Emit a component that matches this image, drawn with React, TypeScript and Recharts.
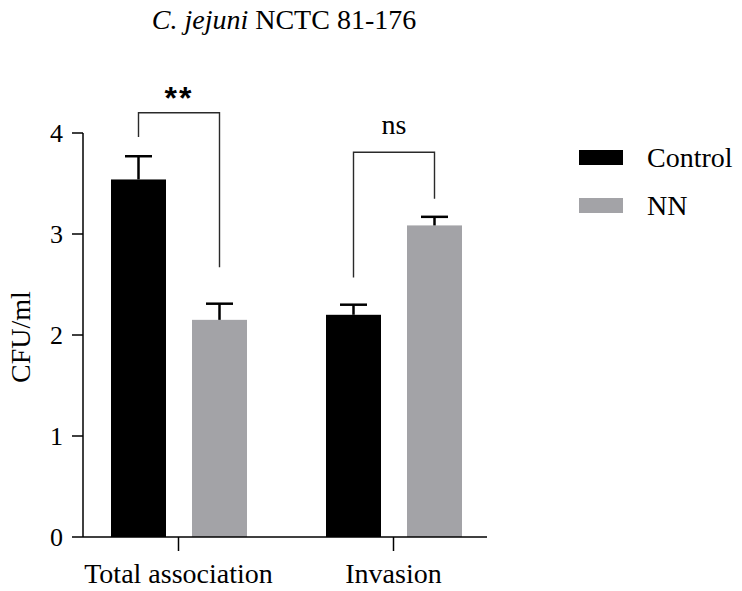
import React from 'react';
import { BarChart, Bar, XAxis, YAxis } from 'recharts';

// ---- data ----
const categories = ['Total association', 'Invasion'];
const controlMeans = [3.54, 2.2];
const controlErrors = [0.23, 0.1];
const nnMeans = [2.15, 3.085];
const nnErrors = [0.16, 0.085];
const bracketTops = [4.2, 3.81];
const bracketLeftEnds = [3.96, 2.57];
const bracketRightEnds = [2.67, 3.35];
const sigLabels = ['**', 'ns'];
const yTicks = [0, 1, 2, 3, 4];
const seriesNames = ['Control', 'NN'];
const seriesKeys = ['control', 'nn'];
const seriesColors = ['#000000', '#a3a3a7'];
const titleItalic = 'C. jejuni';
const titleRest = ' NCTC 81-176';
const yLabel = 'CFU/ml';

const data = categories.map((c, i) => ({
  category: c,
  control: controlMeans[i],
  controlErr: controlErrors[i],
  nn: nnMeans[i],
  nnErr: nnErrors[i],
  bTop: bracketTops[i],
  bLeft: bracketLeftEnds[i],
  bRight: bracketRightEnds[i],
  sig: sigLabels[i],
}));

// ---- layout ----
const W = 742;
const H = 591;
const BAR_SIZE = 55;
const BAR_GAP = 26;
const SERIF = 'Liberation Serif';
const SANS = 'Liberation Sans';

function makeShape(key: string, errKey: string, withBracket: boolean) {
  return (props: any) => {
    const { x, y, width, height, payload, fill } = props;
    const v = payload[key];
    const ppu = v ? height / v : 0;
    const base = y + height;
    const toY = (val: number) => base - val * ppu;
    const cx = x + width / 2;
    const errTop = toY(v + payload[errKey]);
    const els: any[] = [];
    els.push(<rect key="r" x={x} y={y} width={width} height={height} fill={fill} />);
    els.push(<line key="e1" x1={cx} x2={cx} y1={y} y2={errTop} stroke="#000" strokeWidth={2.5} />);
    els.push(<line key="e2" x1={cx - 13.5} x2={cx + 13.5} y1={errTop} y2={errTop} stroke="#000" strokeWidth={2.5} />);
    if (withBracket) {
      const lx = cx - (BAR_SIZE + BAR_GAP);
      const rx = cx;
      const top = toY(payload.bTop);
      els.push(
        <path
          key="b"
          d={`M${lx},${toY(payload.bLeft)}L${lx},${top}L${rx},${top}L${rx},${toY(payload.bRight)}`}
          fill="none"
          stroke="#2a2a2a"
          strokeWidth={1.4}
        />
      );
      const mid = (lx + rx) / 2;
      const isStar = payload.sig.indexOf('*') >= 0;
      els.push(
        <text
          key="t"
          x={mid}
          y={isStar ? top - 4 : top - 18}
          textAnchor="middle"
          fontFamily={isStar ? SANS : SERIF}
          fontWeight={isStar ? 700 : 400}
          fontSize={isStar ? 32 : 28}
          letterSpacing={isStar ? 2 : 0}
          fill="#000"
        >
          {payload.sig}
        </text>
      );
    }
    return <g>{els}</g>;
  };
}

const YLabel = (props: any) => {
  const vb = props.viewBox || {};
  const cx = vb.x + 20;
  const cy = vb.y + vb.height / 2 + 2;
  return (
    <text
      x={cx}
      y={cy}
      transform={`rotate(-90, ${cx}, ${cy})`}
      textAnchor="middle"
      dominantBaseline="central"
      fontFamily={SERIF}
      fontSize={28}
      fill="#000"
    >
      {yLabel}
    </text>
  );
};

export default function App() {
  return (
    <div style={{ position: 'absolute', left: 0, top: 0, width: W, height: H, background: '#fff' }}>
      <BarChart
        width={W}
        height={H}
        data={data}
        margin={{ top: 133, right: 255, bottom: 14, left: 0 }}
        barSize={BAR_SIZE}
        barGap={BAR_GAP}
      >
        <XAxis
          dataKey="category"
          padding={{ left: -12, right: -14 }}
          height={40}
          tickSize={14}
          tickMargin={12}
          axisLine={{ stroke: '#000', strokeWidth: 1.5 }}
          tickLine={{ stroke: '#000', strokeWidth: 1.5 }}
          tick={{ fill: '#000', fontSize: 28, fontFamily: SERIF }}
          interval={0}
        />
        <YAxis
          width={83}
          domain={[0, 4]}
          ticks={yTicks}
          tickSize={11}
          tickMargin={9}
          axisLine={{ stroke: '#000', strokeWidth: 1.5 }}
          tickLine={{ stroke: '#000', strokeWidth: 1.5 }}
          tick={{ fill: '#000', fontSize: 26, fontFamily: SERIF }}
          label={<YLabel />}
        />
        <Bar
          dataKey={seriesKeys[0]}
          name={seriesNames[0]}
          fill={seriesColors[0]}
          isAnimationActive={false}
          shape={makeShape(seriesKeys[0], 'controlErr', false)}
        />
        <Bar
          dataKey={seriesKeys[1]}
          name={seriesNames[1]}
          fill={seriesColors[1]}
          isAnimationActive={false}
          shape={makeShape(seriesKeys[1], 'nnErr', true)}
        />
      </BarChart>
      <svg width={W} height={60} style={{ position: 'absolute', left: 0, top: 0, pointerEvents: 'none' }}>
        <text x={284} y={29} textAnchor="middle" fontFamily={SERIF} fontSize={28} fill="#000">
          <tspan fontStyle="italic">{titleItalic}</tspan>
          <tspan>{titleRest}</tspan>
        </text>
      </svg>
      <div style={{ position: 'absolute', left: 579, top: 150 }}>
        {seriesNames.map((n, i) => (
          <div key={n} style={{ display: 'flex', alignItems: 'center', height: 15, marginBottom: 33 }}>
            <div style={{ width: 44, height: 15, background: seriesColors[i] }} />
            <div
              style={{
                marginLeft: 24,
                fontFamily: SERIF,
                fontSize: 28,
                lineHeight: '15px',
                color: '#000',
                whiteSpace: 'nowrap',
              }}
            >
              {n}
            </div>
          </div>
        ))}
      </div>
    </div>
  );
}
